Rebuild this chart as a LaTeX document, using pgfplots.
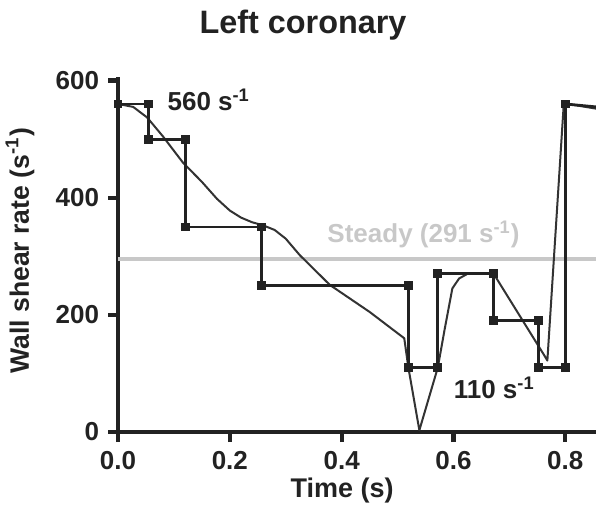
\documentclass[border=0pt]{standalone}
\usepackage{pgfplots}
\pgfplotsset{compat=1.18}
\usepackage{fontspec}
\setmainfont{Liberation Sans}
\definecolor{ink}{HTML}{222222}
\definecolor{curve}{HTML}{333333}
\definecolor{steady}{HTML}{C8C8C8}
\begin{document}
\begin{tikzpicture}
\begin{axis}[
  scale only axis, width=239pt, height=177.5pt,
  xmin=0, xmax=0.855, ymin=0, ymax=606,
  axis lines*=left,
  axis line style={line width=2.1pt, color=ink},
  tick style={line width=2.1pt, color=ink},
  major tick length=5pt, tick align=outside,
  xtick={0,0.2,0.4,0.6,0.8}, ytick={0,200,400,600},
  xticklabel style={/pgf/number format/fixed, /pgf/number format/fixed zerofill, /pgf/number format/precision=1, yshift=-1pt},
  /pgf/number format/assume math mode=true,
  tick label style={font=\bfseries\fontsize{13}{13}\selectfont, color=ink},
  yticklabel style={xshift=-1pt},
  xlabel={Time (s)},
  xlabel style={at={(axis description cs:0.469,-0.166)}, anchor=center, font=\bfseries\fontsize{13.5}{13.5}\selectfont, color=ink},
  ylabel={Wall shear rate (s\textsuperscript{-1})},
  ylabel style={at={(axis description cs:-0.205,0.51)}, anchor=center, font=\bfseries\fontsize{13.3}{13.3}\selectfont, color=ink},
]
% steady reference
\addplot[steady, line width=2pt] coordinates {(0,296) (0.855,296)};

% smooth waveform
\addplot[curve, line width=1pt, line join=round] coordinates {
(0,560) (0.027,555) (0.052,537) (0.08,505) (0.116,460) (0.15,427) (0.177,398)
(0.2,378) (0.22,366) (0.24,358) (0.259,353) (0.28,345) (0.3,330) (0.325,302)
(0.379,251) (0.45,205) (0.512,160) (0.519,112) (0.539,3) (0.572,110)
(0.584,174) (0.598,245) (0.61,262) (0.625,270) (0.672,270) (0.763,130)
(0.768,122) (0.797,555) (0.805,560) (0.855,552)};

% step approximation
\addplot[ink, line width=1.4pt, mark=square*, mark size=1.5pt, line join=miter] coordinates {
(0,560) (0.055,560) (0.055,500) (0.12,500) (0.12,350) (0.257,350) (0.257,250)
(0.52,250) (0.52,110) (0.571,110) (0.571,270) (0.671,270) (0.671,190)
(0.752,190) (0.752,110) (0.80,110) (0.80,560)};
\addplot[ink, line width=1.4pt] coordinates {(0.80,560) (0.855,555)};

\node[anchor=west, font=\bfseries\fontsize{13}{13}\selectfont, color=ink] at (axis cs:0.076,567) {560 s\textsuperscript{-1}};
\node[anchor=west, font=\bfseries\fontsize{13}{13}\selectfont, color=steady] at (axis cs:0.362,337) {Steady (291 s\textsuperscript{-1})};
\node[anchor=west, font=\bfseries\fontsize{13}{13}\selectfont, color=ink] at (axis cs:0.588,75) {110 s\textsuperscript{-1}};

\coordinate (tt) at (rel axis cs:0.387,1.146);
\coordinate (bl) at (rel axis cs:-0.247,-0.225);
\coordinate (tr) at (rel axis cs:1,1.217);
\end{axis}
\node[anchor=center, font=\bfseries\fontsize{16.2}{16.2}\selectfont, color=ink] at (tt) {Left coronary};
\pgfresetboundingbox
\path[use as bounding box] (bl) rectangle (tr);
\end{tikzpicture}
\end{document}
